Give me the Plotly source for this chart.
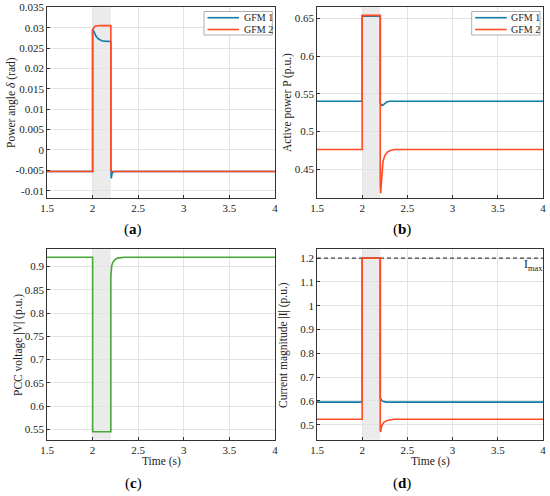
import plotly.graph_objects as go
from plotly.subplots import make_subplots

# fault window (s)
fault_start = 2.0
fault_end = 2.2

# (a) power angle (rad)
t_ang1 = [1.5, 2.0, 2.0, 2.01, 2.02, 2.04, 2.06, 2.08, 2.1, 2.13, 2.16, 2.2, 2.2, 2.205, 2.21, 2.215, 2.22, 2.23, 2.25, 4.0]
ang_gfm1 = [-0.0053, -0.0053, 0.0297, 0.0291, 0.0285, 0.0278, 0.0273, 0.0270, 0.0268, 0.0267, 0.0266, 0.0266, -0.0040, -0.0070, -0.0062, -0.0057, -0.0055, -0.0054, -0.0053, -0.0053]
t_ang2 = [1.5, 2.0, 2.0, 2.01, 2.02, 2.03, 2.05, 2.08, 2.2, 2.2, 2.21, 4.0]
ang_gfm2 = [-0.0053, -0.0053, 0.0294, 0.0299, 0.0302, 0.0304, 0.0305, 0.0305, 0.0305, -0.0050, -0.0053, -0.0053]

# (b) active power (p.u.)
t_p1 = [1.5, 2.0, 2.0, 2.2, 2.2, 2.21, 2.22, 2.23, 2.25, 2.27, 2.3, 4.0]
p_gfm1 = [0.540, 0.540, 0.653, 0.653, 0.537, 0.535, 0.5345, 0.535, 0.537, 0.539, 0.540, 0.540]
t_p2 = [1.5, 2.0, 2.0, 2.2, 2.2, 2.205, 2.21, 2.215, 2.22, 2.23, 2.25, 2.28, 2.32, 2.36, 4.0]
p_gfm2 = [0.476, 0.476, 0.654, 0.654, 0.430, 0.418, 0.428, 0.440, 0.450, 0.460, 0.468, 0.473, 0.475, 0.476, 0.476]

# (c) PCC voltage (p.u.)
t_v = [1.5, 2.0, 2.0, 2.2, 2.2, 2.205, 2.21, 2.22, 2.24, 2.27, 2.3, 2.35, 4.0]
v_pcc = [0.92, 0.92, 0.545, 0.545, 0.88, 0.895, 0.902, 0.908, 0.914, 0.918, 0.919, 0.92, 0.92]

# (d) current magnitude (p.u.)
t_i1 = [1.5, 2.0, 2.0, 2.2, 2.2, 2.21, 2.22, 2.24, 2.27, 4.0]
i_gfm1 = [0.595, 0.595, 1.2, 1.2, 0.612, 0.607, 0.600, 0.597, 0.595, 0.595]
t_i2 = [1.5, 2.0, 2.0, 2.2, 2.2, 2.205, 2.21, 2.22, 2.24, 2.27, 2.3, 2.35, 4.0]
i_gfm2 = [0.523, 0.523, 1.2, 1.2, 0.475, 0.470, 0.485, 0.498, 0.510, 0.517, 0.520, 0.523, 0.523]
i_max = 1.2

x_ticks = [1.5, 2, 2.5, 3, 3.5, 4]
x_labels = ["1.5", "2", "2.5", "3", "3.5", "4"]
ang_ticks = [-0.01, -0.005, 0, 0.005, 0.01, 0.015, 0.02, 0.025, 0.03, 0.035]
ang_labels = ["-0.01", "-0.005", "0", "0.005", "0.01", "0.015", "0.02", "0.025", "0.03", "0.035"]

BLUE = "#0f7cab"
RED = "#ff4a26"
GREEN = "#46a834"
FONT = "Liberation Serif"

W, H = 550, 496
def px_x(x): return x / W
def px_y(y): return 1 - y / H

fig = make_subplots(rows=2, cols=2)

def line(x, y, color, row, col, width=1.6, dash="solid"):
    fig.add_trace(go.Scatter(x=x, y=y, mode="lines", showlegend=False,
                             line=dict(color=color, width=width, dash=dash)), row=row, col=col)

line(t_ang1, ang_gfm1, BLUE, 1, 1)
line(t_ang2, ang_gfm2, RED, 1, 1)
line(t_p1, p_gfm1, BLUE, 1, 2)
line(t_p2, p_gfm2, RED, 1, 2)
line(t_v, v_pcc, GREEN, 2, 1)
line([1.5, 4.0], [i_max, i_max], "black", 2, 2, width=0.9, dash="4px,3px")
line(t_i1, i_gfm1, BLUE, 2, 2)
line(t_i2, i_gfm2, RED, 2, 2)

# axis domains (pixels)
left = [47, 317]
right = [275, 543]
top = [7.3, 249.3]
bottom = [198, 439.7]
y_ranges = [[-0.0118, 0.035], [0.4117, 0.6647], [0.528, 0.937], [0.437, 1.237]]
axis_common = dict(showline=True, mirror=True, linecolor="#333", linewidth=0.8,
                   ticks="inside", ticklen=3, tickcolor="#333", showgrid=True,
                   gridcolor="#e3e3e3", gridwidth=0.8, zeroline=False, ticklabeloverflow="allow",
                   automargin=False, tickfont=dict(family=FONT, size=11, color="#222"))
for k in range(4):
    r, c = k // 2, k % 2
    n = "" if k == 0 else str(k + 1)
    fig.layout["xaxis" + n].update(domain=[px_x(left[c]), px_x(right[c])], range=[1.5, 4],
                                   tickvals=x_ticks, ticktext=x_labels, **axis_common)
    fig.layout["yaxis" + n].update(domain=[px_y(bottom[r]), px_y(top[r])], range=y_ranges[k], **axis_common)
    fig.add_shape(type="rect", xref="x" + n, yref="y" + n + " domain", x0=fault_start, x1=fault_end,
                  y0=0, y1=1, fillcolor="#ebebeb", line_width=0, layer="below")

fig.layout.yaxis.update(tickvals=ang_ticks, ticktext=ang_labels)
fig.layout.yaxis2.update(dtick=0.05)
fig.layout.yaxis3.update(dtick=0.05)
fig.layout.yaxis4.update(dtick=0.1)

def text(s, x, y, size=11.5, angle=0, xanchor="center", color="#222"):
    fig.add_annotation(text=s, x=px_x(x), y=px_y(y), xref="paper", yref="paper", textangle=angle,
                       xanchor=xanchor, yanchor="middle", showarrow=False,
                       font=dict(family=FONT, size=size, color=color))

text("Power angle <i>δ</i> (rad)", 12, 103, angle=-90)
text("Active power P (p.u.)", 288, 103, angle=-90)
text("PCC voltage |V| (p.u.)", 18, 345, angle=-90)
text("Current magnitude |I| (p.u.)", 283, 345, angle=-90)

for x in [161, 430]:
    text("Time (s)", x, 461)

for lab, x, y in [("a", 133, 230), ("b", 402, 230), ("c", 133, 483), ("d", 402, 483)]:
    text("(<b>" + lab + "</b>)", x, y, size=15, color="black")

text("I<sub>max</sub>", 522, 265, size=12, xanchor="left")

# legends of (a) and (b), drawn as a small box like the original
for x0 in [204, 471.7]:
    fig.add_shape(type="rect", xref="paper", yref="paper", x0=px_x(x0), x1=px_x(x0 + 68.3),
                  y0=px_y(35), y1=px_y(11.5), fillcolor="white", line=dict(color="#999", width=0.8))
    for name, color, y in [("GFM 1", BLUE, 17.7), ("GFM 2", RED, 29.5)]:
        fig.add_shape(type="line", xref="paper", yref="paper", x0=px_x(x0 + 3.5), x1=px_x(x0 + 35),
                      y0=px_y(y), y1=px_y(y), line=dict(color=color, width=1.6))
        text(name, x0 + 37.5, y, size=10, xanchor="left")

fig.update_layout(width=W, height=H, margin=dict(l=0, r=0, t=0, b=0),
                  paper_bgcolor="white", plot_bgcolor="white",
                  font=dict(family=FONT), showlegend=False)

fig.write_html("out.html", config={"displayModeBar": False},
               post_script="document.body.style.margin='0';")
